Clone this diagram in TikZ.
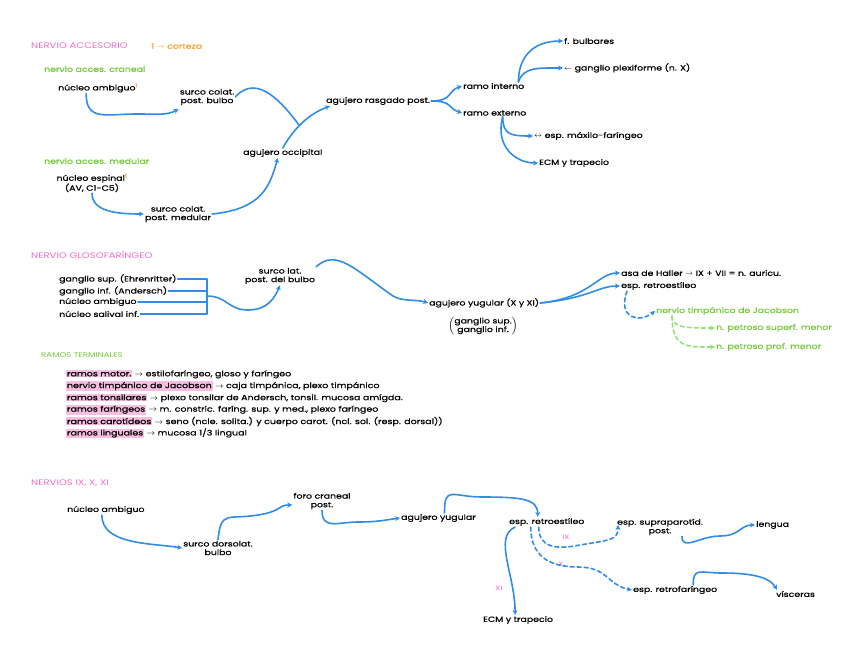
\documentclass[tikz,border=0pt]{standalone}
\usepackage{fontspec}
\setmainfont{Poppins}[FakeStretch=1.25,FakeBold=0.8]
\newfontfamily\titfont{Poppins}[FakeStretch=1.25]
\usetikzlibrary{arrows.meta}
\definecolor{rosa}{RGB}{240,110,205}
\definecolor{rosaclaro}{RGB}{248,190,225}
\definecolor{verde}{RGB}{120,200,60}
\definecolor{verdeclaro}{RGB}{150,225,120}
\definecolor{naranja}{RGB}{240,160,40}
\definecolor{azul}{RGB}{50,140,230}
\newcommand{\hl}[1]{{\setlength{\fboxsep}{0.8pt}\colorbox{rosaclaro}{#1}}}
\tikzset{
  txt/.style={font=\fontsize{7.5}{8.6}\selectfont, inner sep=1pt, align=center},
  izq/.style={txt, anchor=west},
  tit/.style={font=\titfont\fontsize{8.1}{9}\selectfont, text=rosa, inner sep=1pt, anchor=west},
  sub/.style={izq, text=verde},
  lista/.style={izq, font=\fontsize{7.6}{8}\selectfont},
  num/.style={txt, text=rosa, font=\titfont\fontsize{6.5}{7}\selectfont},
  flecha/.style={draw=azul, line width=1.6pt, line cap=round, -{Stealth[length=5pt,width=5pt]}},
  linea/.style={draw=azul, line width=1.6pt, line cap=round},
  rayas/.style={flecha, dash pattern=on 4pt off 3pt},
  rayasv/.style={rayas, draw=verdeclaro}
}
\begin{document}
\begin{tikzpicture}[x=1pt,y=-1pt]
    \useasboundingbox (0,0) rectangle (848,656);
    \node[tit] (t1) at (30,46) {NERVIO ACCESORIO};
    \node[izq,text=naranja] (cort) at (150,46) {1 $\to$ corteza};
    \node[sub] (ncr) at (43,69) {nervio acces. craneal};
    \node[izq] (nac) at (57,88) {núcleo ambiguo\textsuperscript{\color{naranja}1}};
    \node[txt] (scpb) at (207,97) {surco colat.\\post. bulbo};
    \node[izq] (arp) at (325,101) {agujero rasgado post.};
    \node[izq] (ri) at (462,86) {ramo interno};
    \node[izq] (re) at (462,113) {ramo externo};
    \node[izq] (fb) at (563,41) {f. bulbares};
    \node[izq] (gp) at (563,68) {$\leftarrow$ ganglio plexiforme (n. X)};
    \node[izq] (emf) at (533,136) {$\leftrightarrow$ esp. máxilo-faríngeo};
    \node[izq] (ecm) at (538,163) {ECM y trapecio};
    \node[sub] (nme) at (43,161) {nervio acces. medular};
    \node[txt] (nes) at (92,183) {núcleo espinal\textsuperscript{\color{naranja}1}\\(AV, C1-C5)};
    \node[txt] (scpm) at (178,214) {surco colat.\\post. medular};
    \node[izq] (ao) at (242,153) {agujero occipital};
    \coordinate (j1) at (299,125);
    \draw[flecha] ([xshift=-12pt]nac.south) .. controls +(0,28) and +(-30,0) .. (136,114) .. controls +(25,0) and +(-12,6) .. ([yshift=-3pt]scpb.south west);
    \draw[linea] (scpb.east) .. controls +(22,-25) and +(-15,-20) .. (j1);
    \draw[flecha] (ao.north) .. controls +(10,-18) and +(-22,8) .. ([xshift=5pt]arp.south west);
    \draw[flecha] (nes.south) .. controls +(0,18) and +(-28,0) .. (scpm.west);
    \draw[flecha] (scpm.east) .. controls +(50,-5) and +(-8,28) .. ([xshift=-5pt]ao.south);
    \draw[flecha] (arp.east) .. controls +(22,0) and +(-15,5) .. (ri.west);
    \draw[flecha] (arp.east) .. controls +(22,0) and +(-15,-5) .. (re.west);
    \draw[flecha] ([xshift=-7pt]ri.north east) .. controls +(0,-25) and +(-30,0) .. (fb.west);
    \draw[flecha] ([xshift=-7pt]ri.north east) .. controls +(5,-15) and +(-25,0) .. (gp.west);
    \draw[flecha] ([xshift=8pt]re.south) .. controls +(0,18) and +(-22,0) .. (emf.west);
    \draw[flecha] ([xshift=8pt]re.south) .. controls +(-8,30) and +(-22,0) .. (ecm.west);
    \node[tit] (t2) at (30,255) {NERVIO GLOSOFARÍNGEO};
    \node[izq] (g1) at (58,279) {ganglio sup. (Ehrenritter)};
    \node[izq] (g2) at (58,291) {ganglio inf. (Andersch)};
    \node[izq] (g3) at (58,302) {núcleo ambiguo};
    \node[izq] (g4) at (58,314) {núcleo salival inf.};
    \coordinate (bar) at (207,296);
    \foreach \g in {g1,g2,g3,g4}
        \draw[linea,line width=1.1pt] (\g.east) -- (\g.east -| bar);
    \draw[linea,line width=1.1pt] (g1.east -| bar) -- (g4.east -| bar);
    \node[txt] (slb) at (280,276) {surco lat.\\post. del bulbo};
    \node[izq] (ay) at (428,303) {agujero yugular (X y XI)};
    \node[txt] (gg) at (483,326) {$\left(\vcenter{\hbox{\begin{tabular}{@{}c@{}}ganglio sup.\\ganglio inf.\end{tabular}}}\right)$};
    \node[izq] (ah) at (620,273) {asa de Haller $\to$ IX + VII = n. auricu.};
    \node[izq] (er) at (620,286) {esp. retroestíleo};
    \node[sub] (nj) at (655,311) {nervio timpánico de Jacobson};
    \node[sub] (ps) at (715,328) {n. petroso superf. menor};
    \node[sub] (pp) at (715,347) {n. petroso prof. menor};
    \draw[flecha] (bar) .. controls +(20,0) and +(-20,0) .. (248,310) .. controls +(20,0) and +(-5,12) .. (slb.south);
    \draw[flecha] (slb.north east) .. controls +(20,-18) and +(-40,-28) .. (393,296) .. controls +(10,6) and +(-12,-4) .. (ay.west);
    \draw[flecha] (ay.east) .. controls +(50,-5) and +(-22,0) .. (ah.west);
    \draw[flecha] (ay.east) .. controls +(50,-5) and +(-22,0) .. (er.west);
    \draw[rayas] ([xshift=7pt]er.south west) .. controls +(-10,28) and +(-15,12) .. (nj.west);
    \draw[rayasv] ([xshift=17pt]nj.south west) .. controls +(0,12) and +(-28,0) .. (ps.west);
    \draw[rayasv] ([xshift=17pt]nj.south west) .. controls +(0,32) and +(-28,0) .. (pp.west);
    \node[sub,font=\titfont\fontsize{6.9}{7.5}\selectfont] (rt) at (40,355) {RAMOS TERMINALES};
    \foreach \a/\b [count=\i] in {
        {ramos motor.}/{estilofaríngeo, gloso y faríngeo},
        {nervio timpánico de Jacobson}/{caja timpánica, plexo timpánico},
        {ramos tonsilares}/{plexo tonsilar de Andersch, tonsil. mucosa amígda.},
        {ramos faríngeos}/{m. constric. faríng. sup. y med., plexo faríngeo},
        {ramos carotídeos}/{seno (ncle. solita.) y cuerpo carot. (ncl. sol. (resp. dorsal))},
        {ramos linguales}/{mucosa 1/3 lingual}}
        \node[lista] (r\i) at (65,{362.5+11.8*\i}) {\hl{\a} $\to$ \b};
    \node[tit] (t3) at (30,483) {NERVIOS IX, X, XI};
    \node[izq] (na3) at (66,510) {núcleo ambiguo};
    \node[txt] (sdb) at (218,548) {surco dorsolat.\\bulbo};
    \node[txt] (fcp) at (322,501) {foro craneal\\post.};
    \node[izq] (ay3) at (400,518) {agujero yugular};
    \node[izq] (er3) at (508,522) {esp. retroestíleo};
    \node[txt] (esp) at (660,527) {esp. supraparotíd.\\post.};
    \node[izq] (len) at (755,525) {lengua};
    \node[izq] (erf) at (632,590) {esp. retrofaríngeo};
    \node[izq] (vis) at (775,594) {vísceras};
    \node[izq] (ecm3) at (482,620) {ECM y trapecio};
    \node[num] (l9) at (566,537) {IX};
    \node[num] (l10) at (561,564) {X};
    \node[num] (l11) at (499,588) {XI};
    \draw[flecha] ([xshift=-4pt]na3.south) .. controls +(0,30) and +(-30,-5) .. (sdb.west);
    \draw[flecha] (sdb.north) .. controls +(3,-30) and +(-30,5) .. (258,515) .. controls +(25,-4) and +(-15,0) .. ([yshift=-4pt]fcp.west);
    \draw[flecha] (fcp.south) .. controls +(0,20) and +(-20,0) .. (358,522) .. controls +(20,0) and +(-15,2) .. (ay3.west);
    \draw[flecha] ([xshift=6pt]ay3.north) .. controls +(0,-28) and +(-30,0) .. (482,497) .. controls +(40,0) and +(0,-18) .. ([xshift=-9pt]er3.north);
    \draw[flecha] ([xshift=7pt]er3.south west) .. controls +(-22,10) and +(0,-40) .. ([xshift=-3pt]ecm3.north);
    \draw[rayas] ([xshift=-8pt]er3.south) .. controls +(0,20) and +(-25,5) .. (580,545) .. controls +(30,-5) and +(0,15) .. ([xshift=2pt,yshift=2pt]esp.west);
    \draw[rayas] ([xshift=-16pt]er3.south) .. controls +(0,28) and +(-30,0) .. (578,567) .. controls +(30,0) and +(-25,-5) .. (erf.west);
    \draw[flecha] ([xshift=22pt]esp.south) .. controls +(0,15) and +(-20,0) .. (720,536) .. controls +(20,0) and +(-15,0) .. (len.west);
    \draw[flecha] ([xshift=18pt]erf.north) .. controls +(0,-18) and +(-22,0) .. (722,573) .. controls +(25,0) and +(-8,-14) .. ([xshift=2pt]vis.north west);
\end{tikzpicture}
\end{document}
